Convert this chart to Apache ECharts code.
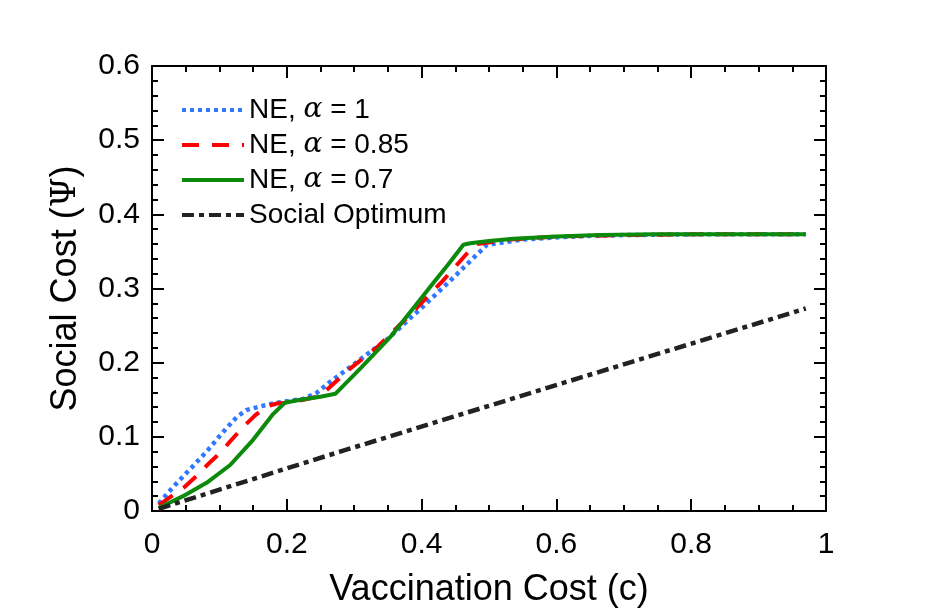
<!DOCTYPE html>
<html>
<head>
<meta charset="utf-8">
<title>Social Cost vs Vaccination Cost</title>
<script src="https://cdn.jsdelivr.net/npm/echarts@6/dist/echarts.min.js"></script>
<style>
  html, body { margin: 0; padding: 0; background: #fff; }
  #chart { width: 938px; height: 613px; }
</style>
</head>
<body>
<div id="chart"></div>
<script>
// values
var seriesNames = ['NE, α = 1', 'NE, α = 0.85', 'NE, α = 0.7', 'Social Optimum'];

var cAlpha1 = [0.01, 0.03, 0.056, 0.081, 0.103, 0.126, 0.14, 0.16, 0.18, 0.2, 0.224, 0.244, 0.264, 0.294, 0.323, 0.346, 0.4, 0.442, 0.47, 0.497, 0.55, 0.6, 0.65, 0.7, 0.8, 0.9, 0.97];
var yAlpha1 = [0.01, 0.031, 0.056, 0.08, 0.104, 0.127, 0.136, 0.141, 0.145, 0.148, 0.151, 0.159, 0.174, 0.194, 0.214, 0.229, 0.274, 0.31, 0.335, 0.359, 0.366, 0.369, 0.371, 0.372, 0.373, 0.373, 0.373];

var cAlpha085 = [0.01, 0.049, 0.066, 0.083, 0.103, 0.116, 0.136, 0.153, 0.17, 0.185, 0.2, 0.225, 0.245, 0.259, 0.294, 0.333, 0.38, 0.43, 0.472, 0.482, 0.53, 0.6, 0.7, 0.8, 0.97];
var yAlpha085 = [0.008, 0.033, 0.047, 0.063, 0.08, 0.094, 0.114, 0.129, 0.141, 0.145, 0.146, 0.15, 0.154, 0.163, 0.192, 0.22, 0.262, 0.309, 0.352, 0.36, 0.366, 0.37, 0.372, 0.373, 0.373];

var cAlpha07 = [0.01, 0.046, 0.081, 0.116, 0.15, 0.18, 0.197, 0.22, 0.25, 0.272, 0.31, 0.353, 0.39, 0.417, 0.44, 0.462, 0.472, 0.5, 0.536, 0.6, 0.665, 0.75, 0.85, 0.97];
var yAlpha07 = [0.004, 0.02, 0.038, 0.062, 0.096, 0.131, 0.146, 0.15, 0.154, 0.158, 0.193, 0.234, 0.276, 0.307, 0.333, 0.359, 0.361, 0.364, 0.367, 0.37, 0.372, 0.373, 0.373, 0.373];

var cOptimum = [0.01, 0.279, 0.665, 0.97];
var yOptimum = [0.003, 0.08, 0.188, 0.273];

var xTicks = [0, 0.2, 0.4, 0.6, 0.8, 1];
var yTicks = [0, 0.1, 0.2, 0.3, 0.4, 0.5, 0.6];

function pairs(xs, ys) {
  return xs.map(function (x, i) { return [x, ys[i]]; });
}

var font = 'Liberation Sans, Arial, Helvetica, sans-serif';

function frameAxis(pos, isX, showLabel) {
  return {
    type: 'value',
    position: pos,
    min: isX ? xTicks[0] : yTicks[0],
    max: isX ? xTicks[xTicks.length - 1] : yTicks[yTicks.length - 1],
    interval: isX ? 0.2 : 0.1,
    axisLine: { show: true, onZero: false, lineStyle: { color: '#000', width: 2 } },
    axisTick: { show: true, inside: true, length: 12, lineStyle: { color: '#000', width: 2 } },
    minorTick: { show: true, splitNumber: isX ? 4 : 5, length: 6, lineStyle: { color: '#000', width: 2 } },
    splitLine: { show: false },
    axisLabel: {
      show: showLabel,
      color: '#000',
      fontSize: 30,
      fontFamily: font,
      margin: isX ? 19 : 12
    }
  };
}

var xBottom = frameAxis('bottom', true, true);
xBottom.name = 'Vaccination Cost (c)';
xBottom.nameLocation = 'middle';
xBottom.nameGap = 61;
xBottom.nameTextStyle = { color: '#000', fontSize: 36, fontFamily: font };

var yLeft = frameAxis('left', false, true);
yLeft.name = 'Social Cost ({p|Ψ})';
yLeft.nameLocation = 'middle';
yLeft.nameGap = 68;
yLeft.nameTextStyle = {
  color: '#000', fontSize: 36, fontFamily: font,
  rich: { p: { fontSize: 34, fontFamily: 'DejaVu Serif, Liberation Serif, serif', color: '#000' } }
};

var chart = echarts.init(document.getElementById('chart'), null, { renderer: 'canvas' });

chart.setOption({
  backgroundColor: '#fff',
  animation: false,
  grid: { left: 152, right: 112, top: 66, bottom: 98 },
  legend: {
    left: 175,
    top: 91,
    orient: 'vertical',
    itemWidth: 62,
    itemHeight: 14,
    itemGap: 7,
    data: seriesNames,
    itemStyle: { opacity: 0 },
    lineStyle: { width: 4 },
    formatter: function (name) { return name.replace('α', '{a|α}'); },
    textStyle: {
      color: '#000', fontSize: 28, fontFamily: font,
      rich: { a: { fontSize: 28, fontStyle: 'italic', fontFamily: 'DejaVu Serif, Liberation Serif, serif', color: '#000' } }
    }
  },
  xAxis: [xBottom, frameAxis('top', true, false)],
  yAxis: [yLeft, frameAxis('right', false, false)],
  series: [
    {
      name: seriesNames[0], type: 'line', showSymbol: false, symbol: 'none',
      data: pairs(cAlpha1, yAlpha1),
      lineStyle: { color: '#2f78ff', width: 4.5, type: [4, 4] },
      itemStyle: { color: '#2f78ff' }
    },
    {
      name: seriesNames[1], type: 'line', showSymbol: false, symbol: 'none',
      data: pairs(cAlpha085, yAlpha085),
      lineStyle: { color: '#ff0000', width: 4, type: [17, 13] },
      itemStyle: { color: '#ff0000' }
    },
    {
      name: seriesNames[2], type: 'line', showSymbol: false, symbol: 'none',
      data: pairs(cAlpha07, yAlpha07),
      lineStyle: { color: '#0c8a0c', width: 4, type: 'solid' },
      itemStyle: { color: '#0c8a0c' }
    },
    {
      name: seriesNames[3], type: 'line', showSymbol: false, symbol: 'none',
      data: pairs(cOptimum, yOptimum),
      lineStyle: { color: '#222222', width: 4.5, type: [12, 5, 5, 5] },
      itemStyle: { color: '#222222' }
    }
  ]
});
</script>
</body>
</html>
